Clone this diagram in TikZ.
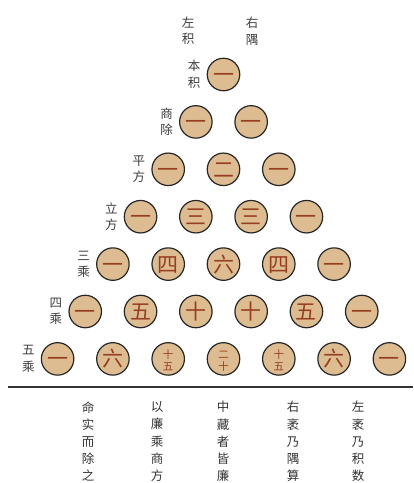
\documentclass[tikz,border=0pt]{standalone}
\usepackage{fontspec}
\newfontfamily\cjk{Noto Sans CJK SC}
\usetikzlibrary{positioning}
\definecolor{coinfill}{RGB}{222,188,146}
\definecolor{numred}{RGB}{150,62,32}
\definecolor{inkgray}{RGB}{60,60,60}
% two small characters stacked in one coin
\newcommand\twochar[2]{\raisebox{-3.3pt}{\fontsize{10.5}{15}\selectfont\shortstack{#1\\#2}}}
\tikzset{
  coin/.style={circle,draw=black!85,line width=1.2pt,fill=coinfill,
    minimum size=32.5pt,inner sep=0pt,text=numred,
    font=\cjk\fontsize{21}{21}\selectfont,
    text height=18.5pt,text depth=2.5pt},
  lab/.style={inner sep=0pt,align=center,text=inkgray,
    font=\cjk\fontsize{12.5}{16.5}\selectfont},
  note/.style={inner sep=0pt,align=center,text=black!80,
    font=\cjk\fontsize{12.5}{17.2}\selectfont}
}
\begin{document}
\begin{tikzpicture}[x=1pt,y=-1pt]
\useasboundingbox (0,0) rectangle (414,483);
% the triangle of coins
\foreach \n/\row in {0/{一},1/{一,一},2/{一,二,一},3/{一,三,三,一},
  4/{一,四,六,四,一},5/{一,五,十,十,五,一},
  6/{一,六,\twochar{十}{五},\twochar{二}{十},\twochar{十}{五},六,一}}{
  \foreach \t [count=\k from 0] in \row
    \node[coin] (c\n-\k) at ({223.5+(\k-\n/2)*55.3},{74.5+\n*47.4}) {\t};
}
% row names on the left
\foreach \n/\s in {0/本\\积,1/商\\除,2/平\\方,3/立\\方,4/三\\乘,5/四\\乘,6/五\\乘}
  \node[lab,left=6pt of c\n-0] (r\n) {\s};
\node[lab] (zuoji) at (188,31) {左\\积};
\node[lab] (youyu) at (252,31) {右\\隅};
% rule and the notes below it
\coordinate (ruleL) at (8,387);
\coordinate (ruleR) at (413,387);
\draw[line width=2pt,black!80] (ruleL) -- (ruleR);
\node[note] (n1) at (88,441.5) {命\\实\\而\\除\\之};
\node[note] (n2) at (157,441.5) {以\\廉\\乘\\商\\方};
\node[note] (n3) at (223,441.5) {中\\藏\\者\\皆\\廉};
\node[note] (n4) at (293,441.5) {右\\袤\\乃\\隅\\算};
\node[note] (n5) at (358,441.5) {左\\袤\\乃\\积\\数};
\end{tikzpicture}
\end{document}
